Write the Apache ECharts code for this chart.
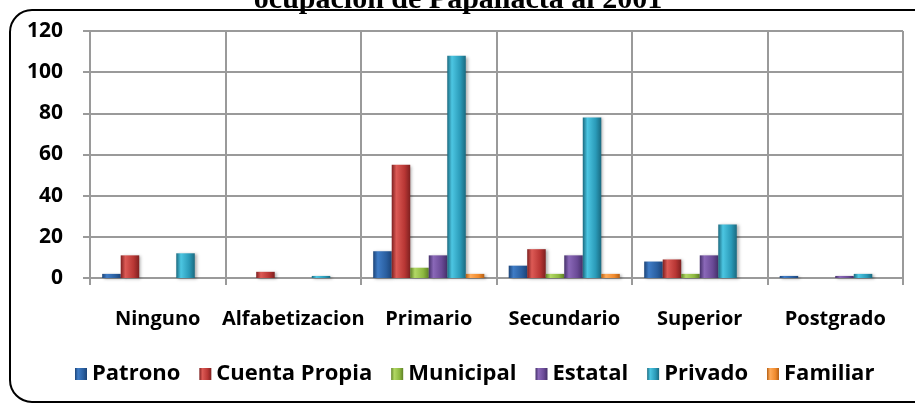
<!DOCTYPE html>
<html>
<head>
<meta charset="utf-8">
<script src="https://cdn.jsdelivr.net/npm/echarts@6/dist/echarts.min.js"></script>
<style>
  html, body { margin: 0; padding: 0; background: #fff; }
  #chart { width: 915px; height: 405px; }
</style>
</head>
<body>
<div id="chart"></div>
<script>
// data
const categories = ['Ninguno', 'Alfabetizacion', 'Primario', 'Secundario', 'Superior', 'Postgrado']
const seriesNames = ['Patrono', 'Cuenta Propia', 'Municipal', 'Estatal', 'Privado', 'Familiar']
const patrono = [2, 0, 13, 6, 8, 1]
const cuentaPropia = [11, 3, 55, 14, 9, 0]
const municipal = [0, 0, 5, 2, 2, 0]
const estatal = [0, 0, 11, 11, 11, 1]
const privado = [12, 1, 108, 78, 26, 2]
const familiar = [0, 0, 2, 2, 0, 0]
const yTicks = [0, 20, 40, 60, 80, 100, 120]

// dark edge / highlight / base, for a bevelled look
const palette = [
  ['#1c4478', '#3f7cc6', '#2a5fa0'],
  ['#7e2020', '#dc5a55', '#b83634'],
  ['#5f8226', '#b2d865', '#8db840'],
  ['#45306a', '#8a68b8', '#6a4a96'],
  ['#1a6a80', '#4cc6e2', '#2a9ab8'],
  ['#b55f14', '#ffab5a', '#f08a2c'],
]

const grad = c => new echarts.graphic.LinearGradient(0, 0, 1, 0, [
  { offset: 0, color: c[0] },
  { offset: 0.25, color: c[1] },
  { offset: 0.7, color: c[2] },
  { offset: 1, color: c[0] },
])

const font = '"Open Sans", "Liberation Sans", sans-serif'
const gridGray = '#9a9a9a'

const chart = echarts.init(document.getElementById('chart'))
chart.setOption({
  backgroundColor: '#fff',
  animation: false,
  graphic: [
    {
      type: 'rect',
      z: 0,
      shape: { x: 10, y: 10, width: 960, height: 392, r: 22 },
      style: { fill: 'none', stroke: '#000', lineWidth: 2 },
    },
    {
      type: 'text',
      z: 10,
      style: {
        text: 'ocupacion de Papallacta al 2001',
        x: 458,
        y: 0,
        textAlign: 'center',
        textVerticalAlign: 'middle',
        font: 'bold 30px "Liberation Serif", serif',
        fill: '#000',
      },
    },
  ],
  grid: { left: 90, right: 12, top: 31, bottom: 127 },
  legend: {
    left: 70,
    top: 358,
    itemWidth: 12,
    itemHeight: 12,
    itemGap: 19,
    icon: 'rect',
    data: seriesNames,
    textStyle: { color: '#000', fontFamily: font, fontWeight: 'bold', fontSize: 22 },
  },
  xAxis: {
    type: 'category',
    data: categories,
    axisLine: { lineStyle: { color: gridGray, width: 2 } },
    axisTick: { show: true, length: 7, lineStyle: { color: gridGray, width: 2 } },
    splitLine: { show: true, lineStyle: { color: gridGray, width: 2 } },
    axisLabel: {
      interval: 0,
      margin: 31,
      color: '#000',
      fontFamily: font,
      fontWeight: 'bold',
      fontSize: 20,
    },
  },
  yAxis: {
    type: 'value',
    min: yTicks[0],
    max: yTicks[yTicks.length - 1],
    interval: 20,
    axisLine: { show: true, lineStyle: { color: gridGray, width: 2 } },
    axisTick: { show: true, length: 7, lineStyle: { color: gridGray, width: 2 } },
    splitLine: { show: true, lineStyle: { color: gridGray, width: 2 } },
    axisLabel: {
      margin: 27,
      color: '#000',
      fontFamily: font,
      fontWeight: 'bold',
      fontSize: 21,
    },
  },
  series: [patrono, cuentaPropia, municipal, estatal, privado, familiar].map((d, i) => ({
    name: seriesNames[i],
    type: 'bar',
    data: d,
    barGap: '0%',
    barCategoryGap: '18%',
    itemStyle: {
      color: grad(palette[i]),
      shadowBlur: 3,
      shadowOffsetX: 2,
      shadowOffsetY: 1,
      shadowColor: 'rgba(0,0,0,0.3)',
    },
  })),
})
</script>
</body>
</html>
